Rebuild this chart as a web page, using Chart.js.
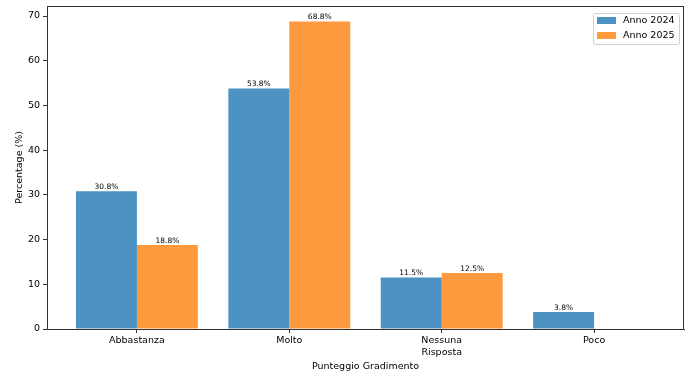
<!DOCTYPE html>
<html><head><meta charset="utf-8">
<script src="https://cdn.jsdelivr.net/npm/chart.js@4/dist/chart.umd.min.js"></script>
<style>html,body{margin:0;padding:0;background:#fff}#w{width:692px;height:378px}</style>
</head><body><div id="w"><canvas id="c"></canvas></div>
<script>
const categories = ['Abbastanza', 'Molto', ['Nessuna', 'Risposta'], 'Poco'];
const values2024 = [30.8, 53.8, 11.5, 3.8];
const values2025 = [18.8, 68.8, 12.5, null];
const seriesNames = ['Anno 2024', 'Anno 2025'];
const yTicks = [0, 10, 20, 30, 40, 50, 60, 70];

const FONT = 'DejaVu Sans';
const colors = ['#4c92c3', '#ff993e'];

const toPts = arr => arr.map((v, i) => ({x: i, y: v}));

const labelPlugin = {
  id: 'barLabels',
  afterDatasetsDraw(chart) {
    const ctx = chart.ctx;
    ctx.save();
    ctx.font = '7.5px "' + FONT + '"';
    ctx.fillStyle = '#000';
    ctx.textAlign = 'center';
    ctx.textBaseline = 'bottom';
    chart.data.datasets.forEach((ds, di) => {
      const meta = chart.getDatasetMeta(di);
      meta.data.forEach((bar, i) => {
        const v = ds.data[i].y;
        if (v === null || v === undefined) return;
        ctx.fillText(v.toFixed(1) + '%', bar.x, bar.y - 0.5);
      });
    });
    ctx.restore();
  }
};

const framePlugin = {
  id: 'frame',
  afterDraw(chart) {
    const a = chart.chartArea, ctx = chart.ctx;
    ctx.save();
    ctx.strokeStyle = '#333';
    ctx.lineWidth = 1;
    ctx.strokeRect(Math.round(a.left) + 0.5, Math.round(a.top) + 0.5, Math.round(a.right - a.left) - 1, Math.round(a.bottom - a.top));
    // legend
    const lx = 593, ly = 13, lw = 86, lh = 31;
    ctx.fillStyle = 'rgba(255,255,255,0.8)';
    ctx.strokeStyle = '#d0d0d0';
    ctx.beginPath();
    if (ctx.roundRect) ctx.roundRect(lx + 0.5, ly + 0.5, lw, lh, 2); else ctx.rect(lx + 0.5, ly + 0.5, lw, lh);
    ctx.fill(); ctx.stroke();
    ctx.font = '9.5px "' + FONT + '"';
    ctx.textBaseline = 'middle';
    ctx.textAlign = 'left';
    seriesNames.forEach((n, i) => {
      const cy = ly + 7.5 + i * 15;
      ctx.fillStyle = colors[i];
      ctx.fillRect(lx + 4, cy - 3.5, 19, 7);
      ctx.fillStyle = '#000';
      ctx.fillText(n, lx + 30, cy);
    });
    ctx.restore();
  }
};

new Chart(document.getElementById('c'), {
  type: 'bar',
  data: {
    datasets: [
      {label: seriesNames[0], data: toPts(values2024), backgroundColor: colors[0], borderWidth: 0, categoryPercentage: 0.8, barPercentage: 1.0},
      {label: seriesNames[1], data: toPts(values2025), backgroundColor: colors[1], borderWidth: 0, categoryPercentage: 0.8, barPercentage: 1.0}
    ]
  },
  options: {
    responsive: true,
    maintainAspectRatio: false,
    animation: false,
    layout: {padding: {top: 6, right: 8, left: 0, bottom: 0}},
    plugins: {legend: {display: false}, tooltip: {enabled: false}},
    scales: {
      x: {
        type: 'linear',
        min: -0.59, max: 3.59,
        offset: false,
        grid: {display: true, offset: false, drawOnChartArea: false, drawTicks: true, tickLength: 4, color: '#333'},
        border: {display: true, color: '#333'},
        afterBuildTicks: s => { s.ticks = categories.map((_, i) => ({value: i})); },
        afterFit: s => { s.height = 49; s.paddingLeft = 0; s.paddingRight = 0; },
        ticks: {
          autoSkip: false, maxRotation: 0, padding: 2,
          color: '#000', font: {family: FONT, size: 9.5},
          callback: v => categories[v]
        },
        title: {display: true, text: 'Punteggio Gradimento', color: '#000', font: {family: FONT, size: 9.5}, padding: {top: 2, bottom: 6}}
      },
      y: {
        min: 0, max: 72.24,
        grid: {display: true, drawOnChartArea: false, drawTicks: true, tickLength: 4, color: '#333'},
        border: {display: true, color: '#333'},
        afterBuildTicks: s => { s.ticks = yTicks.map(v => ({value: v})); },
        afterFit: s => { s.width = 47; s.paddingTop = 0; s.paddingBottom = 0; },
        ticks: {color: '#000', padding: 3, font: {family: FONT, size: 9.5}},
        title: {display: true, text: 'Percentage (%)', color: '#000', font: {family: FONT, size: 9.5}, padding: {top: 14, bottom: 4}}
      }
    }
  },
  plugins: [labelPlugin, framePlugin]
});
</script></body></html>
